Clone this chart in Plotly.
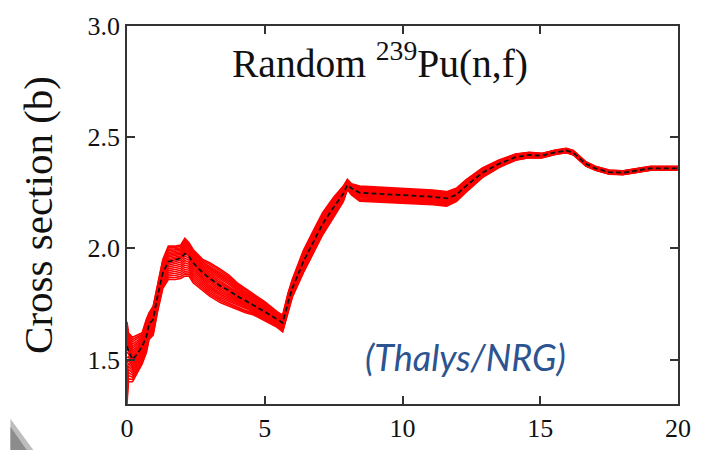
import plotly.graph_objects as go

# Incident neutron energy grid (MeV)
energy = [0.0, 0.05, 0.2, 0.4, 0.55, 0.7, 0.8, 0.95, 1.1, 1.3, 1.5, 1.75, 1.95, 2.1,
          2.25, 2.4, 2.75, 3.0, 3.4, 3.7, 4.0, 4.3, 4.6, 5.0, 5.2, 5.45, 5.65, 5.85,
          6.0, 6.4, 6.75, 7.1, 7.5, 7.85, 8.0, 8.15, 8.45, 9.2, 10.4, 11.1, 11.6,
          11.95, 12.3, 12.9, 13.5, 14.1, 14.6, 15.05, 15.55, 15.95, 16.2, 16.65,
          17.0, 17.5, 18.0, 18.5, 19.0, 19.5, 20.0]

# Central (best-estimate) fission cross section (b)
xs_central = [1.56, 1.54, 1.50, 1.53, 1.56, 1.60, 1.66, 1.68, 1.78, 1.89, 1.94, 1.95,
              1.955, 1.975, 1.965, 1.935, 1.89, 1.865, 1.83, 1.81, 1.785, 1.765,
              1.745, 1.715, 1.70, 1.68, 1.665, 1.76, 1.82, 1.94, 2.026, 2.11, 2.185,
              2.245, 2.285, 2.27, 2.25, 2.245, 2.24, 2.232, 2.225, 2.24, 2.28, 2.34,
              2.38, 2.41, 2.42, 2.417, 2.432, 2.44, 2.43, 2.38, 2.36, 2.343, 2.34,
              2.35, 2.36, 2.36, 2.36]

# Upper / lower extent of the random-file spread around the central curve (b)
spread_up = [0.11, 0.08, 0.10, 0.08, 0.06, 0.08, 0.05, 0.06, 0.05, 0.06, 0.07, 0.06,
             0.06, 0.07, 0.06, 0.06, 0.06, 0.07, 0.075, 0.07, 0.06, 0.055, 0.05,
             0.045, 0.04, 0.035, 0.035, 0.04, 0.04, 0.05, 0.05, 0.05, 0.045, 0.035,
             0.025, 0.02, 0.03, 0.03, 0.03, 0.03, 0.03, 0.03, 0.028, 0.022,
             0.017, 0.014, 0.012, 0.01, 0.01, 0.01, 0.01, 0.01, 0.009, 0.009,
             0.009, 0.009, 0.009, 0.009, 0.009]
spread_down = [0.26, 0.14, 0.10, 0.08, 0.08, 0.07, 0.07, 0.07, 0.07, 0.07, 0.08, 0.09,
               0.09, 0.10, 0.09, 0.09, 0.08, 0.08, 0.075, 0.07, 0.06, 0.055, 0.045,
               0.04, 0.04, 0.035, 0.04, 0.04, 0.04, 0.05, 0.05, 0.05, 0.045, 0.035,
               0.02, 0.03, 0.038, 0.038, 0.038, 0.036, 0.035, 0.03, 0.028, 0.022,
               0.017, 0.014, 0.012, 0.01, 0.01, 0.01, 0.01, 0.01, 0.009, 0.009,
               0.009, 0.009, 0.009, 0.009, 0.009]

# Relative position of each random file inside the spread (-1 = lower edge, 1 = upper)
sample_positions = [-1.0, -0.9, -0.8, -0.7, -0.6, -0.5, -0.4, -0.3, -0.2, -0.1, 0.0,
                    0.1, 0.2, 0.3, 0.4, 0.5, 0.6, 0.7, 0.8, 0.9, 1.0]

x_ticks = [0, 5, 10, 15, 20]
y_ticks = [1.5, 2.0, 2.5, 3.0]

fig = go.Figure()

for p in sample_positions:
    ys = []
    for c, u, d in zip(xs_central, spread_up, spread_down):
        ys.append(c + p * (u if p >= 0 else d))
    fig.add_trace(go.Scatter(x=energy, y=ys, mode="lines",
                             line=dict(color="#ff0000", width=1.6),
                             showlegend=False, hoverinfo="skip"))

fig.add_trace(go.Scatter(x=energy, y=xs_central, mode="lines",
                         line=dict(color="#111111", width=1.8, dash="5px,3px"),
                         showlegend=False))

serif = "Liberation Serif, Times New Roman, serif"

fig.add_annotation(text="Random <sup>239</sup>Pu(n,f)", x=0.459, y=0.908,
                   xref="paper", yref="paper", xanchor="center", yanchor="middle",
                   showarrow=False,
                   font=dict(family=serif, size=39.5, color="#111111"))
fig.add_annotation(text="<i>(Thalys/NRG)</i>", x=0.615, y=0.125,
                   xref="paper", yref="paper", xanchor="center", yanchor="middle",
                   showarrow=False,
                   font=dict(family="Lato, Open Sans, sans-serif", size=36,
                             color="#2c5490"))

# grey corner decoration at the lower left
fig.add_shape(type="path", xref="paper", yref="paper",
              path="M -0.2116 -0.039 L -0.17 -0.122 L -0.2116 -0.122 Z",
              fillcolor="#bdbdbd", line=dict(width=0))
fig.add_shape(type="path", xref="paper", yref="paper",
              path="M -0.2116 -0.06 L -0.182 -0.122 L -0.2116 -0.122 Z",
              fillcolor="#8c8c8c", line=dict(width=0))

axis_common = dict(showline=True, linecolor="#333333", linewidth=1.5, mirror="ticks",
                   ticks="inside", ticklen=8, tickwidth=1.5, tickcolor="#333333",
                   showgrid=False, zeroline=False,
                   tickfont=dict(family=serif, size=26, color="#111111"))

fig.update_xaxes(range=[0, 20], tickvals=x_ticks, ticktext=[str(v) for v in x_ticks],
                 **axis_common)
fig.update_yaxes(range=[1.3, 3.0], tickvals=y_ticks,
                 ticktext=[f"{v:.1f}" for v in y_ticks],
                 title=dict(text="Cross section (b)",
                            font=dict(family=serif, size=41, color="#111111"),
                            standoff=22),
                 **axis_common)

fig.update_layout(width=703, height=455, margin=dict(l=127, r=23, t=23, b=47),
                  paper_bgcolor="white", plot_bgcolor="white")

fig.write_html("out.html")
